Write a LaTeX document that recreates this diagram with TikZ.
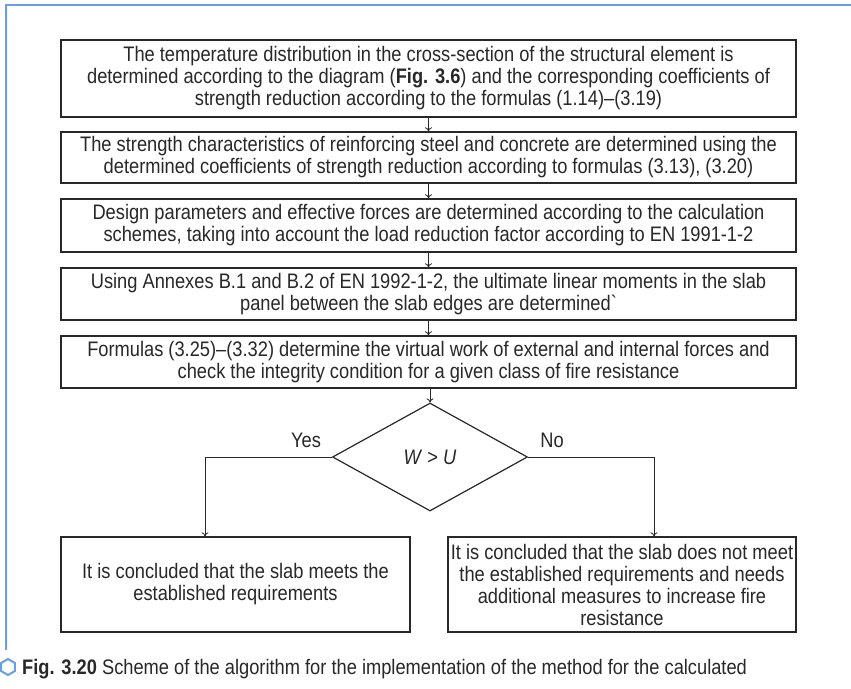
\documentclass[tikz,border=0pt]{standalone}
\usepackage{fontspec}
\setmainfont{Liberation Sans}[Ligatures=TeXOff, FakeStretch=0.87]
\usetikzlibrary{shapes.geometric,arrows.meta}
\definecolor{frameblue}{RGB}{104,160,222}
\definecolor{boxline}{RGB}{40,40,40}
\begin{document}
\begin{tikzpicture}[x=1pt,y=-1pt,
  every node/.style={font=\fontsize{21}{22}\selectfont, text=boxline},
  stepbox/.style={draw=boxline, line width=1.4pt, align=center, inner sep=0pt, minimum width=735pt},
  endbox/.style={draw=boxline, line width=1.4pt, align=center, inner sep=0pt, minimum height=95pt},
  decision/.style={diamond, draw=boxline, line width=1.2pt, inner sep=0pt, minimum width=195pt, minimum height=108pt},
  arr/.style={draw=boxline, line width=0.8pt, -{To[length=4pt,width=7pt]}}]
\useasboundingbox (0,0) rectangle (851,688);
\fill[white] (0,0) rectangle (851,688);
\draw[frameblue, line width=2.5pt] (6,650) -- (6,5) -- (851,5);

\node[stepbox, minimum height=77pt] (b1) at (428.5,78.5) {The temperature distribution in the cross-section of the structural element is\\determined according to the diagram (\textbf{Fig. 3.6}) and the corresponding coefficients of\\strength reduction according to the formulas (1.14)–(3.19)};
\node[stepbox, minimum height=51pt] (b2) at (428.5,157.5) {The strength characteristics of reinforcing steel and concrete are determined using the\\determined coefficients of strength reduction according to formulas (3.13), (3.20)};
\node[stepbox, minimum height=53pt] (b3) at (428.5,225.5) {Design parameters and effective forces are determined according to the calculation\\schemes, taking into account the load reduction factor according to EN 1991-1-2};
\node[stepbox, minimum height=52pt] (b4) at (428.5,294) {Using Annexes B.1 and B.2 of EN 1992-1-2, the ultimate linear moments in the slab\\panel between the slab edges are determined`};
\node[stepbox, minimum height=52pt] (b5) at (428.5,362) {Formulas (3.25)–(3.32) determine the virtual work of external and internal forces and\\check the integrity condition for a given class of fire resistance};
\node[decision] (dia) at (430,457) {\textit{W} > \textit{U}};
\node (yes) at (306,440) {Yes};
\node (no) at (552,440) {No};
\node[endbox, minimum width=349pt] (lbox) at (235.5,584.5) {It is concluded that the slab meets the\\established requirements};
\node[endbox, minimum width=348pt] (rbox) at (622,584.5) {It is concluded that the slab does not meet\\the established requirements and needs\\additional measures to increase fire\\resistance};

\draw[arr] (b1) -- (b2);
\draw[arr] (b2) -- (b3);
\draw[arr] (b3) -- (b4);
\draw[arr] (b4) -- (b5);
\draw[arr] (b5.south -| dia.north) -- (dia.north);
\draw[arr] (dia.west) -| ([xshift=-30.5pt]lbox.north);
\draw[arr] (dia.east) -| ([xshift=32pt]rbox.north);

\node[regular polygon, regular polygon sides=6, shape border rotate=30, draw=frameblue, line width=2pt, minimum size=16pt, inner sep=0pt] (hex) at (8,667) {};
\node[anchor=base west, inner sep=0pt] (cap) at (22,674) {\textbf{Fig. 3.20} Scheme of the algorithm for the implementation of the method for the calculated};
\end{tikzpicture}
\end{document}
